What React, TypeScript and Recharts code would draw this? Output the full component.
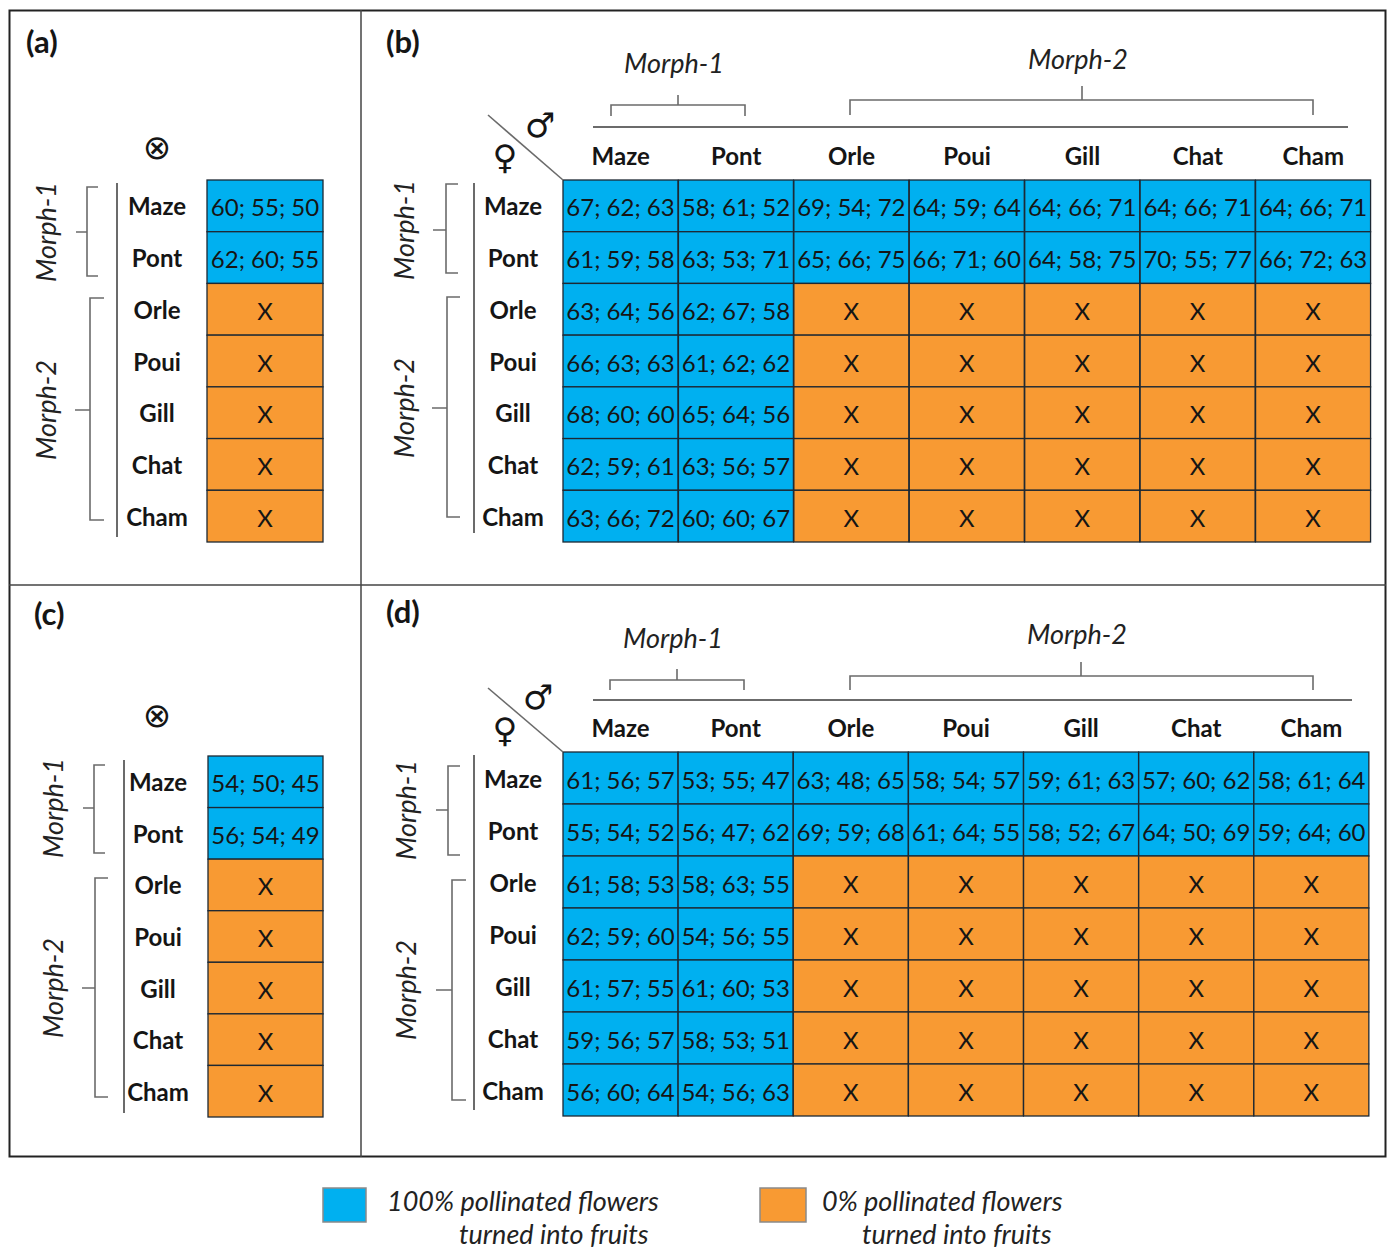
import React from 'react';
import { BarChart, Bar, XAxis, YAxis } from 'recharts';

// ---------- categories ----------
const FEMALES = ['Maze', 'Pont', 'Orle', 'Poui', 'Gill', 'Chat', 'Cham'];
const MALES = ['Maze', 'Pont', 'Orle', 'Poui', 'Gill', 'Chat', 'Cham'];
const SELF = ['⊗'];

type Trip = number[] | null;

// ---------- panel (a): self-pollination (one value triplet per female, null = no fruit) ----------
const aSelf: Trip[] = [[60, 55, 50], [62, 60, 55], null, null, null, null, null];
// ---------- panel (c) ----------
const cSelf: Trip[] = [[54, 50, 45], [56, 54, 49], null, null, null, null, null];

// ---------- panel (b): rows = female, columns = male ----------
const bMaze: Trip[] = [[67, 62, 63], [58, 61, 52], [69, 54, 72], [64, 59, 64], [64, 66, 71], [64, 66, 71], [64, 66, 71]];
const bPont: Trip[] = [[61, 59, 58], [63, 53, 71], [65, 66, 75], [66, 71, 60], [64, 58, 75], [70, 55, 77], [66, 72, 63]];
const bOrle: Trip[] = [[63, 64, 56], [62, 67, 58], null, null, null, null, null];
const bPoui: Trip[] = [[66, 63, 63], [61, 62, 62], null, null, null, null, null];
const bGill: Trip[] = [[68, 60, 60], [65, 64, 56], null, null, null, null, null];
const bChat: Trip[] = [[62, 59, 61], [63, 56, 57], null, null, null, null, null];
const bCham: Trip[] = [[63, 66, 72], [60, 60, 67], null, null, null, null, null];

// ---------- panel (d) ----------
const dMaze: Trip[] = [[61, 56, 57], [53, 55, 47], [63, 48, 65], [58, 54, 57], [59, 61, 63], [57, 60, 62], [58, 61, 64]];
const dPont: Trip[] = [[55, 54, 52], [56, 47, 62], [69, 59, 68], [61, 64, 55], [58, 52, 67], [64, 50, 69], [59, 64, 60]];
const dOrle: Trip[] = [[61, 58, 53], [58, 63, 55], null, null, null, null, null];
const dPoui: Trip[] = [[62, 59, 60], [54, 56, 55], null, null, null, null, null];
const dGill: Trip[] = [[61, 57, 55], [61, 60, 53], null, null, null, null, null];
const dChat: Trip[] = [[59, 56, 57], [58, 53, 51], null, null, null, null, null];
const dCham: Trip[] = [[56, 60, 64], [54, 56, 63], null, null, null, null, null];

const ROW_TICKS = [0.5, 1.5, 2.5, 3.5, 4.5, 5.5, 6.5];

// ---------- styles ----------
const BLUE = '#00B0F0';
const ORANGE = '#F89A33';
const FONT = 'Lato, "Open Sans", sans-serif';
const SYM = '"DejaVu Sans", sans-serif';
const INK = '#151515';
const GREY = '#6b6b6b';

function buildData(cols: string[], rows: Trip[][]) {
  return cols.map((m, ci) => {
    const o: any = { male: m };
    FEMALES.forEach((f, fi) => {
      o[f] = 1;
      o[f + '_v'] = rows[fi][ci];
    });
    return o;
  });
}

function CellShape(props: any) {
  const { x, y, width, height, vals } = props;
  const rx = Math.min(x, x + width);
  const ry = Math.min(y, y + height);
  const rw = Math.abs(width);
  const rh = Math.abs(height);
  const ok = vals != null;
  return (
    <g>
      <rect x={rx} y={ry} width={rw} height={rh} fill={ok ? BLUE : ORANGE} stroke="#1d2833" strokeWidth={1.3} />
      <text
        x={rx + rw / 2}
        y={ry + rh / 2 + 1}
        textAnchor="middle"
        dominantBaseline="central"
        fontFamily={FONT}
        fontSize={24}
        fill={INK}
      >
        {ok ? vals.join('; ') : 'X'}
      </text>
    </g>
  );
}

function XTick(props: any) {
  const { x, y, payload } = props;
  return (
    <text x={x} y={y - 25} textAnchor="middle" dominantBaseline="central" fontFamily={FONT} fontWeight={700} fontSize={24} fill={INK}>
      {payload.value}
    </text>
  );
}

function YTick(props: any) {
  const { x, y, payload } = props;
  return (
    <text x={x - 50} y={y} textAnchor="middle" dominantBaseline="central" fontFamily={FONT} fontWeight={700} fontSize={24} fill={INK}>
      {FEMALES[Math.floor(payload.value)]}
    </text>
  );
}

type PanelProps = {
  box: [number, number, number, number];
  plot: [number, number, number, number];
  cols: string[];
  rows: Trip[][];
  showCols: boolean;
};

function Panel({ box, plot, cols, rows, showCols }: PanelProps) {
  const XH = 40;
  const YW = 90;
  const [cl, ct, cw, ch] = box;
  const [L, T, R, B] = plot;
  const margin = { top: T - ct - XH, left: L - cl - YW, right: cl + cw - R, bottom: ct + ch - B };
  const data = buildData(cols, rows);
  return (
    <div style={{ position: 'absolute', left: cl, top: ct }}>
      <BarChart width={cw} height={ch} data={data} margin={margin} barCategoryGap={0} barGap={0}>
        <XAxis
          dataKey="male"
          type="category"
          orientation="top"
          height={XH}
          axisLine={false}
          tickLine={false}
          tickSize={0}
          tickMargin={0}
          interval={0}
          tick={showCols ? <XTick /> : false}
        />
        <YAxis
          type="number"
          domain={[0, 7]}
          reversed
          ticks={ROW_TICKS}
          width={YW}
          axisLine={false}
          tickLine={false}
          tickSize={0}
          tickMargin={0}
          interval={0}
          tick={<YTick />}
        />
        {FEMALES.map((f) => (
          <Bar
            key={f}
            dataKey={f}
            stackId="s"
            isAnimationActive={false}
            shape={(p: any) => <CellShape {...p} vals={p.payload[f + '_v']} />}
          />
        ))}
      </BarChart>
    </div>
  );
}

function VBracket({ vline, x, y1, y2, tickR, mid, midL, label, lx }: any) {
  return (
    <g>
      <line x1={vline[0]} y1={vline[1]} x2={vline[0]} y2={vline[2]} stroke={GREY} strokeWidth={2} />
      <path d={`M${tickR} ${y1} H${x} V${y2} H${tickR} M${x} ${mid} H${midL}`} fill="none" stroke={GREY} strokeWidth={1.6} />
      <text
        x={lx}
        y={mid}
        transform={`rotate(-90 ${lx} ${mid})`}
        textAnchor="middle"
        dominantBaseline="central"
        fontFamily={FONT}
        fontStyle="italic"
        fontSize={27}
        fill="#222"
      >
        {label}
      </text>
    </g>
  );
}

function HBracket({ y, x1, x2, endY, mid, midT, label, ly }: any) {
  return (
    <g>
      <path d={`M${x1} ${endY} V${y} H${x2} V${endY} M${mid} ${y} V${midT}`} fill="none" stroke={GREY} strokeWidth={1.6} />
      <text x={mid - 4} y={ly} textAnchor="middle" dominantBaseline="central" fontFamily={FONT} fontStyle="italic" fontSize={27} fill="#222">
        {label}
      </text>
    </g>
  );
}

function Letter({ x, y, t }: any) {
  return (
    <text x={x} y={y} fontFamily={FONT} fontWeight={700} fontSize={31} fill={INK}>
      {t}
    </text>
  );
}

function Overlay() {
  return (
    <svg width={1393} height={1249} style={{ position: 'absolute', left: 0, top: 0, pointerEvents: 'none' }}>
      {/* frame */}
      <rect x={9.5} y={10.5} width={1376} height={1146} fill="none" stroke="#222" strokeWidth={2} />
      <line x1={361} y1={10} x2={361} y2={1157} stroke="#444" strokeWidth={1.5} />
      <line x1={9} y1={585} x2={1386} y2={585} stroke="#444" strokeWidth={1.5} />

      <Letter x={26} y={53} t="(a)" />
      <Letter x={386} y={53} t="(b)" />
      <Letter x={34} y={625} t="(c)" />
      <Letter x={386} y={623} t="(d)" />

      {/* panel a */}
      <text x={157} y={147} textAnchor="middle" dominantBaseline="central" fontFamily={SYM} fontSize={34} fill={INK}>⊗</text>
      <VBracket vline={[117, 183, 537]} x={87} y1={187} y2={276} tickR={98} mid={232} midL={76} label="Morph-1" lx={45} />
      <VBracket vline={[117, 183, 537]} x={90} y1={298} y2={520} tickR={104} mid={410} midL={75} label="Morph-2" lx={45} />

      {/* panel c */}
      <text x={157} y={715} textAnchor="middle" dominantBaseline="central" fontFamily={SYM} fontSize={34} fill={INK}>⊗</text>
      <VBracket vline={[124, 760, 1113]} x={94} y1={765} y2={853} tickR={105} mid={808} midL={83} label="Morph-1" lx={52} />
      <VBracket vline={[124, 760, 1113]} x={95} y1={878} y2={1097} tickR={108} mid={988} midL={82} label="Morph-2" lx={52} />

      {/* panel b */}
      <VBracket vline={[474, 183, 533]} x={446} y1={184} y2={273} tickR={458} mid={230} midL={433} label="Morph-1" lx={403} />
      <VBracket vline={[474, 183, 533]} x={447} y1={297} y2={517} tickR={460} mid={408} midL={432} label="Morph-2" lx={403} />
      <line x1={593} y1={127} x2={1348} y2={127} stroke={GREY} strokeWidth={2} />
      <HBracket y={105} x1={611} x2={745} endY={116} mid={678} midT={95} label="Morph-1" ly={62} />
      <HBracket y={100} x1={850} x2={1313} endY={115} mid={1082} midT={86} label="Morph-2" ly={58} />
      <line x1={488} y1={115} x2={563} y2={180} stroke={GREY} strokeWidth={1.6} />
      <text x={540} y={125} textAnchor="middle" dominantBaseline="central" fontFamily={SYM} fontSize={34} fill={INK}>♂</text>
      <text x={505} y={157} textAnchor="middle" dominantBaseline="central" fontFamily={SYM} fontSize={34} fill={INK}>♀</text>

      {/* panel d */}
      <VBracket vline={[474, 755, 1110]} x={448} y1={766} y2={855} tickR={460} mid={810} midL={436} label="Morph-1" lx={405} />
      <VBracket vline={[474, 755, 1110]} x={452} y1={880} y2={1100} tickR={466} mid={990} midL={436} label="Morph-2" lx={405} />
      <line x1={593} y1={700} x2={1352} y2={700} stroke={GREY} strokeWidth={2} />
      <HBracket y={680} x1={610} x2={744} endY={690} mid={677} midT={669} label="Morph-1" ly={637} />
      <HBracket y={676} x1={850} x2={1313} endY={690} mid={1081} midT={662} label="Morph-2" ly={633} />
      <line x1={488} y1={688} x2={563} y2={752} stroke={GREY} strokeWidth={1.6} />
      <text x={538} y={697} textAnchor="middle" dominantBaseline="central" fontFamily={SYM} fontSize={34} fill={INK}>♂</text>
      <text x={505} y={730} textAnchor="middle" dominantBaseline="central" fontFamily={SYM} fontSize={34} fill={INK}>♀</text>

      {/* legend */}
      <rect x={323} y={1188} width={43} height={34} fill={BLUE} stroke="#8a8a8a" strokeWidth={1.5} />
      <text x={387} y={1211} fontFamily={FONT} fontStyle="italic" fontSize={27} fill="#222">100% pollinated flowers</text>
      <text x={459} y={1244} fontFamily={FONT} fontStyle="italic" fontSize={27} fill="#222">turned into fruits</text>
      <rect x={760} y={1188} width={46} height={34} fill={ORANGE} stroke="#8a8a8a" strokeWidth={1.5} />
      <text x={822} y={1211} fontFamily={FONT} fontStyle="italic" fontSize={27} fill="#222">0% pollinated flowers</text>
      <text x={862} y={1244} fontFamily={FONT} fontStyle="italic" fontSize={27} fill="#222">turned into fruits</text>
    </svg>
  );
}

export default function App() {
  const bRows = [bMaze, bPont, bOrle, bPoui, bGill, bChat, bCham];
  const dRows = [dMaze, dPont, dOrle, dPoui, dGill, dChat, dCham];
  const aRows = aSelf.map((v) => [v]);
  const cRows = cSelf.map((v) => [v]);
  return (
    <div style={{ position: 'absolute', left: 0, top: 0, width: 1393, height: 1249, background: '#fff', overflow: 'hidden' }}>
      <Panel box={[10, 11, 350, 573]} plot={[207, 180, 323, 542]} cols={SELF} rows={aRows} showCols={false} />
      <Panel box={[362, 11, 1023, 573]} plot={[563, 180, 1371, 542]} cols={MALES} rows={bRows} showCols={true} />
      <Panel box={[10, 586, 350, 570]} plot={[208, 756, 323, 1117]} cols={SELF} rows={cRows} showCols={false} />
      <Panel box={[362, 586, 1023, 570]} plot={[563, 752, 1369, 1116]} cols={MALES} rows={dRows} showCols={true} />
      <Overlay />
    </div>
  );
}
